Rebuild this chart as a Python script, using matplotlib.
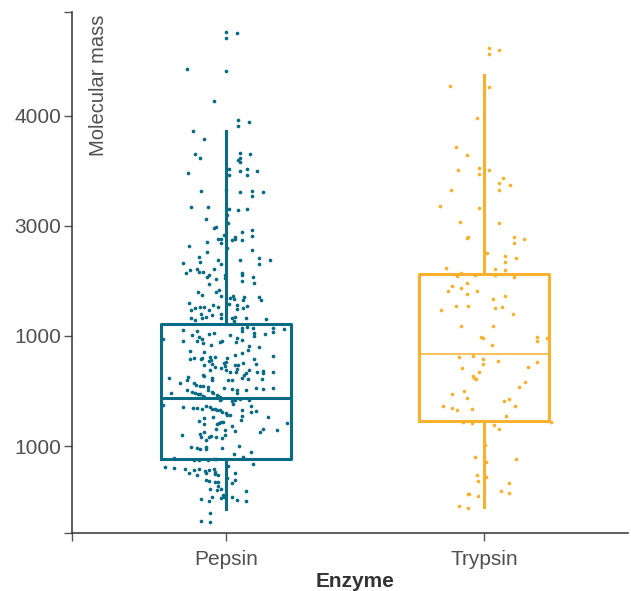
import matplotlib
matplotlib.use("Agg")
import matplotlib.pyplot as plt
import numpy as np

# categories and box statistics
enzymes = ["Pepsin", "Trypsin"]
box_q1 = [882, 1227]
box_median = [1436, 1836]
box_q3 = [2109, 2564]
whisker_low = [430, 450]
whisker_high = [3860, 4373]

y_ticks = [1000, 2000, 3000, 4000]
y_tick_labels = ["1000", "1000", "3000", "4000"]

# individual observations: (jitter, molecular mass); jitter in 1/258 of category spacing
pepsin_points = [
    (0, 4764), (0, 4709), (11, 4755), (-39, 4425), (0, 4409), (-12, 4134), (12, 3964), (23, 3946),
    (12, 3909), (-33, 3864), (-22, 3791), (-31, 3655), (-26, 3618), (14, 3664), (24, 3655), (12, 3600),
    (14, 3618), (14, 3582), (-38, 3482), (3, 3518), (3, 3464), (14, 3500), (21, 3518), (21, 3464),
    (31, 3500), (-25, 3318), (0, 3327), (14, 3309), (26, 3318), (37, 3309), (26, 3273), (-35, 3173),
    (-18, 3173), (3, 3155), (1, 3100), (12, 3146), (21, 3155), (-20, 3064), (2, 3027), (-12, 2982),
    (-10, 2991), (26, 2964), (26, 2909), (16, 2945), (9, 2900), (9, 2882), (6, 2873), (16, 2873),
    (-2, 2918), (-8, 2882), (-5, 2882), (-5, 2845), (-19, 2855), (-37, 2818), (1, 2800), (-19, 2764),
    (26, 2782), (-27, 2718), (33, 2709), (44, 2691), (14, 2691), (-26, 2673), (-8, 2691), (-43, 2664),
    (-5, 2655), (33, 2655), (-36, 2600), (-40, 2573), (-29, 2609), (-27, 2582), (-23, 2582), (-12, 2609),
    (-17, 2555), (-19, 2536), (-1, 2555), (-1, 2527), (16, 2573), (16, 2555), (27, 2536), (-10, 2518),
    (16, 2500), (28, 2482), (-17, 2473), (-28, 2400), (-24, 2373), (-10, 2400), (-7, 2418), (-5, 2364),
    (7, 2364), (4, 2345), (8, 2336), (18, 2355), (17, 2327), (33, 2355), (35, 2327), (-37, 2300),
    (3, 2291), (11, 2282), (11, 2245), (21, 2273), (17, 2255), (-13, 2282), (-8, 2264), (-35, 2236),
    (-31, 2255), (-26, 2264), (-22, 2264), (-17, 2236), (-25, 2200), (-20, 2173), (-24, 2164), (-14, 2191),
    (-5, 2200), (-5, 2164), (-35, 2164), (6, 2164), (9, 2173), (20, 2164), (40, 2155), (-31, 2145),
    (8, 2136), (-63, 1973), (-43, 2055), (-34, 2009), (-29, 2045), (-27, 1991), (-29, 1955), (-24, 1973),
    (-23, 1936), (-17, 2018), (-12, 2027), (-15, 1918), (-43, 1955), (-6, 1945), (-4, 1955), (4, 2009),
    (11, 1982), (16, 1964), (10, 1945), (16, 2073), (21, 2082), (16, 2045), (27, 2073), (28, 2027),
    (28, 2000), (39, 2018), (47, 2073), (47, 2036), (58, 2064), (23, 1909), (22, 1873), (16, 1845),
    (33, 1900), (-36, 1864), (-22, 1855), (9, 1827), (-36, 1791), (-32, 1800), (-25, 1791), (-24, 1800),
    (-16, 1809), (-15, 1782), (-17, 1773), (-11, 1809), (1, 1800), (0, 1764), (28, 1791), (47, 1818),
    (-22, 1736), (-14, 1745), (-5, 1709), (-2, 1755), (-1, 1727), (0, 1691), (9, 1736), (12, 1736),
    (11, 1700), (17, 1755), (30, 1745), (-11, 1718), (-16, 1691), (4, 1673), (10, 1673), (23, 1691),
    (20, 1664), (18, 1645), (31, 1673), (37, 1682), (37, 1664), (47, 1673), (-23, 1645), (-22, 1636),
    (-14, 1618), (-14, 1600), (16, 1618), (22, 1609), (36, 1609), (2, 1600), (6, 1600), (-38, 1627),
    (-39, 1600), (-57, 1618), (-46, 1573), (-32, 1573), (-30, 1555), (-26, 1545), (-23, 1545), (-18, 1536),
    (-39, 1509), (-34, 1491), (-31, 1482), (-28, 1473), (-26, 1473), (-23, 1455), (-22, 1445), (-18, 1509),
    (-14, 1491), (-13, 1482), (-9, 1464), (-8, 1455), (-6, 1445), (-5, 1427), (-55, 1482), (6, 1518),
    (11, 1509), (11, 1482), (20, 1509), (30, 1527), (37, 1518), (47, 1527), (-2, 1527), (-63, 1373),
    (-43, 1355), (-33, 1345), (-29, 1345), (-24, 1336), (-20, 1364), (-16, 1355), (-14, 1336), (-11, 1336),
    (-9, 1327), (-6, 1327), (-4, 1309), (-6, 1418), (0, 1300), (1, 1282), (6, 1409), (9, 1418),
    (14, 1427), (7, 1382), (16, 1327), (23, 1418), (25, 1364), (25, 1309), (30, 1318), (42, 1264),
    (-22, 1255), (-13, 1264), (4, 1282), (-27, 1227), (-22, 1200), (-9, 1200), (-7, 1209), (-5, 1218),
    (-3, 1218), (16, 1273), (15, 1236), (61, 1209), (-44, 1100), (-26, 1109), (-25, 1082), (-22, 1127),
    (-20, 1055), (-17, 1082), (-15, 1091), (-10, 1155), (-10, 1082), (-4, 1073), (-1, 1145), (-1, 1100),
    (9, 1136), (6, 1182), (34, 1127), (37, 1155), (51, 1145), (-35, 991), (-29, 982), (-26, 973),
    (-20, 991), (-20, 973), (-4, 982), (13, 1000), (8, 927), (25, 945), (17, 900), (-32, 873),
    (-27, 873), (-18, 873), (-12, 882), (-10, 882), (-52, 891), (-61, 809), (-52, 800), (-41, 791),
    (-37, 755), (-32, 782), (-27, 791), (-29, 736), (-21, 773), (-17, 782), (-20, 755), (-12, 791),
    (-11, 764), (-11, 745), (-8, 736), (2, 818), (9, 755), (27, 836), (-20, 691), (-17, 682),
    (-11, 673), (-8, 673), (1, 709), (9, 691), (6, 664), (-8, 636), (-16, 609), (-9, 600),
    (-5, 609), (20, 591), (-3, 555), (-2, 536), (-5, 527), (-14, 536), (-17, 500), (-25, 518),
    (6, 536), (11, 509), (20, 500), (-16, 391), (-25, 318), (-16, 309),
]

trypsin_points = [
    (5, 4618), (5, 4564), (15, 4600), (-34, 4273), (5, 4264), (-7, 3982), (-28, 3718), (-17, 3645),
    (-26, 3509), (-5, 3527), (-5, 3473), (5, 3509), (19, 3436), (15, 3391), (15, 3327), (26, 3373),
    (-33, 3327), (-44, 3182), (-5, 3164), (-24, 3036), (15, 3027), (-17, 2891), (-16, 2900), (30, 2900),
    (30, 2845), (40, 2882), (3, 2755), (21, 2727), (21, 2673), (21, 2600), (32, 2709), (-38, 2618),
    (-23, 2573), (11, 2609), (-27, 2546), (30, 2536), (-9, 2555), (11, 2555), (-32, 2455), (-23, 2436),
    (-17, 2482), (-36, 2409), (-7, 2409), (-17, 2382), (21, 2364), (9, 2336), (-43, 2236), (-28, 2273),
    (-16, 2273), (11, 2255), (18, 2264), (29, 2200), (-23, 2091), (9, 2091), (-3, 1991), (-1, 1982),
    (8, 1918), (53, 1991), (53, 1955), (63, 1982), (-25, 1809), (-11, 1818), (-1, 1791), (-1, 1745),
    (14, 1773), (53, 1764), (-22, 1709), (44, 1718), (-5, 1673), (-11, 1636), (-10, 1618), (-8, 1609),
    (41, 1582), (35, 1536), (-20, 1500), (-32, 1473), (-17, 1436), (25, 1427), (20, 1409), (-41, 1364),
    (-32, 1345), (-27, 1327), (-12, 1336), (31, 1364), (22, 1273), (-21, 1218), (-12, 1209), (10, 1191),
    (15, 1155), (67, 1218), (1, 1009), (-9, 900), (2, 855), (32, 882), (-7, 736), (2, 718),
    (-6, 682), (25, 664), (17, 591), (25, 573), (-16, 564), (-15, 564), (-6, 545), (-25, 455),
    (-16, 436),
]

colors = ["#0a6b84", "#f7b12d"]
text_color = "#505050"
font = "Liberation Sans"
fsize = 15

fig = plt.figure(figsize=(6.31, 5.91), dpi=100)
ax = fig.add_axes([0.1141, 0.0981, 0.8809, 0.8816])

for i, (pts, col) in enumerate(zip([pepsin_points, trypsin_points], colors)):
    stats = [{
        "med": box_median[i], "q1": box_q1[i], "q3": box_q3[i],
        "whislo": whisker_low[i], "whishi": whisker_high[i], "fliers": [],
    }]
    med_lw = 2.2 if i == 0 else 1.1
    ax.bxp(stats, positions=[i], widths=0.504, showcaps=False, showfliers=False,
           boxprops=dict(color=col, linewidth=2.2),
           whiskerprops=dict(color=col, linewidth=2.2),
           medianprops=dict(color=col, linewidth=med_lw),
           zorder=2)
    jit = np.array([p[0] for p in pts]) / 258.0
    vals = np.array([p[1] for p in pts])
    ax.scatter(i + jit, vals, s=7, color=col, linewidths=0, zorder=3)

ax.set_xlim(-0.597, 1.558)
ax.set_ylim(209, 4945)

ax.set_xticks([0, 1])
ax.set_xticklabels(enzymes)
ax.set_xticks([-0.597], minor=True)
ax.set_yticks(y_ticks)
ax.set_yticklabels(y_tick_labels)
ax.set_yticks([209, 4945], minor=True)

for side in ["top", "right"]:
    ax.spines[side].set_visible(False)
for side in ["left", "bottom"]:
    ax.spines[side].set_color("#333333")
    ax.spines[side].set_linewidth(1.1)

ax.tick_params(axis="both", which="both", length=6, width=1.0, color="#555555",
               labelcolor=text_color, labelsize=fsize)
ax.tick_params(axis="x", pad=6)
ax.tick_params(axis="y", pad=2)
for lab in ax.get_xticklabels() + ax.get_yticklabels():
    lab.set_fontfamily(font)

ax.text(0.047, 0.994, "Molecular mass", transform=ax.transAxes, rotation=90,
        ha="center", va="top", fontsize=14.5, color=text_color, fontfamily=font)
ax.set_xlabel("Enzyme", fontsize=fsize, fontweight="bold", color="#333333",
              fontfamily=font, labelpad=1)
ax.xaxis.set_label_coords(0.51, -0.075)

fig.savefig("out.png", dpi=100)
